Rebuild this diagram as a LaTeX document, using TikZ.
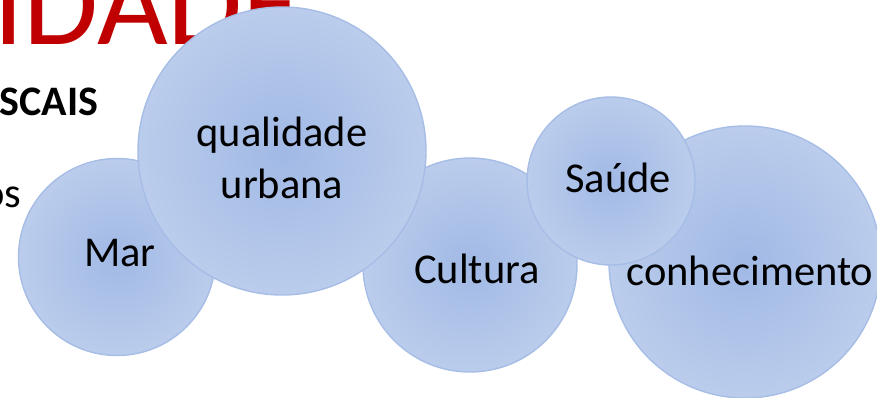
\documentclass[tikz,border=0pt]{standalone}
\usepackage{fontspec}
\setmainfont{Carlito}
\usetikzlibrary{calc}

\definecolor{bubblein}{RGB}{160,185,229}
\definecolor{bubbleout}{RGB}{214,224,243}
\definecolor{bubbleline}{RGB}{166,189,230}
\definecolor{titlered}{RGB}{192,0,0}
\pgfdeclareradialshading{bubbleshade}{\pgfpoint{0bp}{0bp}}{color(0bp)=(bubblein); color(50bp)=(bubbleout); color(72bp)=(bubbleout)}

\begin{document}
\begin{tikzpicture}[x=1pt,y=-1pt,
  bubble/.style={circle,draw=bubbleline,line width=1.4pt,shading=bubbleshade,inner sep=0pt},
  word/.style={font=\fontsize{42.5}{51}\selectfont,anchor=base}]
\useasboundingbox (0,0) rectangle (877,398);
% Draw the cut-off text behind
\node[font=\fontsize{122}{140}\selectfont,text=titlered,anchor=base east] (title) at (306,45) {IDADE};
\node[font=\fontsize{42}{50}\selectfont\bfseries,anchor=base east] (subtitle) at (102,116) {SCAIS};
\node[word,anchor=base east] (rest) at (25,207) {os};
% Draw the bubbles and their words
\node[bubble,minimum size=197pt] (mar) at (117,257) {};
\node[word] (mar-text) at (120,266) {Mar};
\node[bubble,minimum size=214pt] (cultura) at (470,265) {};
\node[word] (cultura-text) at (477,283) {Cultura};
\node[bubble,minimum size=288pt] (qualidade) at (282,151) {};
\node[word] (qualidade-text1) at (282,147) {qualidade};
\node[word] (qualidade-text2) at (282,198) {urbana};
\node[bubble,minimum size=272pt] (conhecimento) at (745,262) {};
\node[word] (conhecimento-text) at (750,285) {conhecimento};
\node[bubble,minimum size=168pt] (saude) at (611,181) {};
\node[word] (saude-text) at (618,192) {Saúde};
\end{tikzpicture}
\end{document}
